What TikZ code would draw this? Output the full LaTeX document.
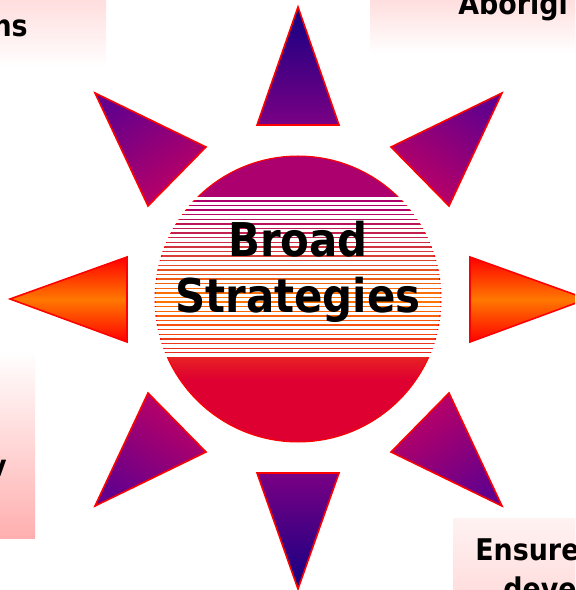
\documentclass[tikz,border=0pt]{standalone}
\usepackage{fontspec}
\newfontfamily\sunfont{DejaVu Sans}[FakeStretch=0.9]
\definecolor{navyray}{RGB}{20,0,130}
\definecolor{purpray}{RGB}{122,0,132}
\definecolor{tipray}{RGB}{100,0,140}
\definecolor{innerray}{RGB}{192,0,100}
\definecolor{suntop}{RGB}{172,0,110}
\definecolor{sunbot}{RGB}{222,0,48}
\definecolor{sunmid}{RGB}{255,120,0}
\definecolor{pinkbox}{RGB}{255,222,222}
\definecolor{pinkdeep}{RGB}{255,175,175}
\pgfdeclareverticalshading{sunfill}{100bp}{color(0bp)=(sunbot); color(36bp)=(sunbot); color(50bp)=(sunmid); color(66bp)=(suntop); color(100bp)=(suntop)}
\begin{document}
\begin{tikzpicture}[x=0.02cm,y=-0.02cm,
	ray/.style={draw=red,line width=0.9pt,line join=miter},
	corner/.style={font=\sunfont\bfseries\fontsize{17}{20}\selectfont,inner sep=0pt}]
		\useasboundingbox (0,0) rectangle (575,590);
		\clip (0,0) rectangle (575,590);
		% text boxes at the corners
		\shade[top color=pinkbox,bottom color=white] (0,0) rectangle (106,68);
		\shade[top color=pinkbox,bottom color=white] (370,0) rectangle (575,53);
		\shade[top color=white,bottom color=pinkdeep] (0,350) rectangle (35,538);
		\shade[top color=white!60!pinkbox,bottom color=pinkbox] (453,518) rectangle (575,590);
		\node[corner,anchor=base east](ns) at (28,37) {ns};
		\node[corner,anchor=base west](abor) at (458,15) {Aborigi};
		\node[corner,anchor=base east](v) at (7,476) {v};
		\node[corner,anchor=base west](ensure) at (475,560) {Ensure};
		\node[corner,anchor=base west](deve) at (503,599) {deve};
		% rays
		\shade[ray,top color=navyray,bottom color=purpray] (298,7) -- (339,125) -- (257,125) -- cycle;
		\shade[ray,top color=purpray,bottom color=navyray] (298,589) -- (339,473) -- (257,473) -- cycle;
		\shade[ray,top color=red,bottom color=red,middle color=sunmid] (10,299) -- (127,257) -- (127,342) -- cycle;
		\shade[ray,top color=red,bottom color=red,middle color=sunmid] (587,299) -- (470,257) -- (470,342) -- cycle;
		\shade[ray,top color=tipray,bottom color=innerray,shading angle=35] (95,93) -- (206,147) -- (148,206) -- cycle;
		\shade[ray,top color=tipray,bottom color=innerray,shading angle=-35] (502,93) -- (391,147) -- (449,206) -- cycle;
		\shade[ray,top color=tipray,bottom color=innerray,shading angle=145] (95,506) -- (206,452) -- (148,393) -- cycle;
		\shade[ray,top color=tipray,bottom color=innerray,shading angle=-145] (502,506) -- (391,452) -- (449,393) -- cycle;
		% sun
		\shade[draw=red,line width=0.6pt,shading=sunfill] (298,299) circle[radius=2.86cm];
		\begin{scope}
			\clip (298,299) circle[radius=2.9cm];
			\foreach \i in {0,...,34}
				\fill[white] (140,197+\i*4.6) rectangle (460,200.3+\i*4.6);
		\end{scope}
		\node[font=\sunfont\bfseries\fontsize{26.5}{30}\selectfont,inner sep=0pt,anchor=base](broad) at (298,257) {Broad};
		\node[font=\sunfont\bfseries\fontsize{26.5}{30}\selectfont,inner sep=0pt,anchor=base](strat) at (298,313) {Strategies};
	\end{tikzpicture}
\end{document}
